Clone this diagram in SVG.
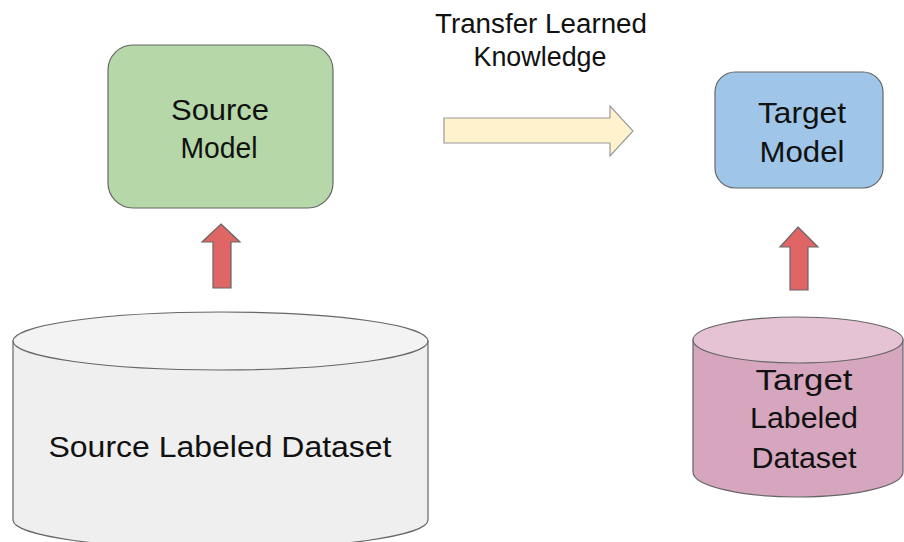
<svg xmlns="http://www.w3.org/2000/svg" width="904" height="542" viewBox="0 0 904 542">
<style>
  .t { font-family: "Liberation Sans", Arial, sans-serif; fill: #111111; text-anchor: middle; }
  .edge { stroke: #666666; stroke-width: 1.2; }
  .red { fill: #e06666; stroke: #666666; stroke-width: 1.2; }
</style>
<rect width="904" height="542" fill="#ffffff"/>

<g id="source-model">
  <rect x="108" y="45" width="225" height="163" rx="25" ry="25" fill="#b6d7a8" class="edge"/>
  <text class="t" x="220" y="120" font-size="30" textLength="98" lengthAdjust="spacingAndGlyphs">Source</text>
  <text class="t" x="219" y="158" font-size="30" textLength="77" lengthAdjust="spacingAndGlyphs">Model</text>
</g>

<g id="target-model">
  <rect x="715" y="72" width="168" height="116" rx="20" ry="20" fill="#9fc5e8" class="edge"/>
  <text class="t" x="802" y="123" font-size="30" textLength="88" lengthAdjust="spacingAndGlyphs">Target</text>
  <text class="t" x="802" y="162" font-size="30" textLength="85" lengthAdjust="spacingAndGlyphs">Model</text>
</g>

<g id="source-dataset">
  <path d="M13,341 L13,520 A207.5,29 0 0 0 428,520 L428,341 Z" fill="#efefef" class="edge"/>
  <ellipse cx="220.5" cy="341" rx="207.5" ry="29" fill="#f3f3f3" class="edge"/>
  <text class="t" x="220" y="457" font-size="30" textLength="343" lengthAdjust="spacingAndGlyphs">Source Labeled Dataset</text>
</g>

<g id="target-dataset">
  <path d="M693,340 L693,472 A105,25 0 0 0 903,472 L903,340 Z" fill="#d5a6bd" class="edge"/>
  <ellipse cx="798" cy="340" rx="105" ry="23" fill="#e6c3d4" class="edge"/>
  <text class="t" x="804" y="390" font-size="30" textLength="97" lengthAdjust="spacingAndGlyphs">Target</text>
  <text class="t" x="804" y="428" font-size="30" textLength="108" lengthAdjust="spacingAndGlyphs">Labeled</text>
  <text class="t" x="804" y="468" font-size="30" textLength="105" lengthAdjust="spacingAndGlyphs">Dataset</text>
</g>

<g id="transfer-label">
  <text class="t" x="541" y="33" font-size="27" textLength="212" lengthAdjust="spacingAndGlyphs">Transfer Learned</text>
  <text class="t" x="540" y="66" font-size="27" textLength="133" lengthAdjust="spacingAndGlyphs">Knowledge</text>
</g>

<g id="connectors">
  <polygon points="444,118 610,118 610,106 633,131 610,156 610,143 444,143" fill="#fff2cc" stroke="#999999" stroke-width="1.2"/>
  <polygon class="red" points="221,224 240,242 231,242 231,288 213,288 213,242 202,242"/>
  <polygon class="red" points="798,227 818,247 808,247 808,290 790,290 790,247 780,247"/>
</g>
</svg>
